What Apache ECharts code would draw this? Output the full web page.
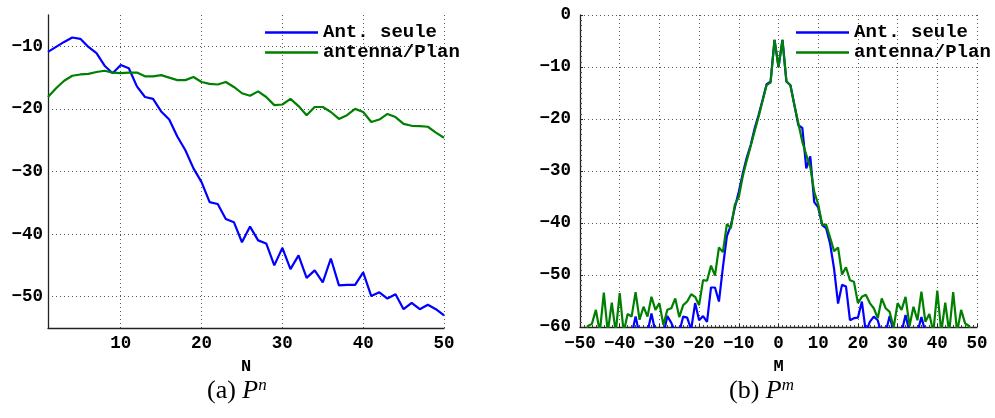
<!DOCTYPE html>
<html>
<head>
<meta charset="utf-8">
<script src="https://cdn.jsdelivr.net/npm/echarts@6/dist/echarts.min.js"></script>
<style>
  html, body { margin: 0; padding: 0; background: #fff; }
  #chart { width: 995px; height: 418px; }
</style>
</head>
<body>
<div id="chart"></div>
<script>
// (a) P^n : N = 1..50
const nAxis = Array.from({ length: 50 }, (_, i) => i + 1);
const antSeuleN = [
  -10.9, -10.1, -9.3, -8.6, -8.8, -10.1, -11.1, -13.1, -14.3, -13.0,
  -13.5, -16.4, -18.1, -18.4, -20.4, -21.7, -24.4, -26.6, -29.5, -31.7,
  -34.9, -35.2, -37.6, -38.1, -41.3, -38.8, -41.0, -41.5, -45.0, -42.2,
  -45.6, -43.4, -47.0, -45.8, -47.7, -43.9, -48.2, -48.1, -48.1, -46.1,
  -49.9, -49.3, -50.3, -49.6, -52.0, -51.0, -52.0, -51.3, -52.0, -53.0
];
const antennaPlanN = [
  -18.1, -16.7, -15.5, -14.7, -14.5, -14.4, -14.1, -13.9, -14.2, -14.3,
  -14.2, -14.2, -14.8, -14.8, -14.6, -15.0, -15.4, -15.4, -14.9, -15.7,
  -16.0, -16.1, -15.7, -16.5, -17.5, -17.9, -17.2, -18.1, -19.4, -19.3,
  -18.4, -19.55, -21.0, -19.7, -19.7, -20.5, -21.6, -21.0, -20.0, -20.5,
  -22.1, -21.7, -20.8, -21.3, -22.4, -22.7, -22.75, -22.85, -23.8, -24.6
];

// (b) P^m : M = -50..50
const mAxis = Array.from({ length: 101 }, (_, i) => i - 50);
const antSeuleM = [
  -63, -63, -63, -63, -63, -63, -63, -63, -63, -63,
  -63, -63, -63, -61.5, -58, -61.5, -62, -61, -57.4, -61,
  -62, -61.5, -57.9, -59.2, -61, -61, -58, -58.2, -60.5, -55.4,
  -58.7, -57.9, -59, -52.4, -52.4, -55.1, -48.5, -42.5, -40.5, -37,
  -34, -30.5, -27.4, -25, -21.8, -19.2, -16.3, -13.3, -12.8, -4.8,
  -10,
  -4.8, -12.8, -13.5, -17.3, -21.2, -21.7, -29.5, -27.2, -36, -37,
  -40.4, -41, -44, -48.8, -55.5, -51.9, -52.2, -58.7, -58.3, -58.2,
  -55.1, -61, -59, -58, -58.7, -61.5, -61, -57.9, -61, -62,
  -61, -57.7, -61, -62, -61, -58.1, -61, -63, -63, -63,
  -63, -63, -63, -63, -63, -63, -63, -63, -63, -63
];
const antennaPlanM = [
  -63, -62, -59.8, -59.4, -56.7, -61, -53.4, -61, -55.3, -61,
  -53.5, -61, -57.5, -58, -53.3, -58.6, -56.1, -58, -54.2, -56.7,
  -55.4, -59.6, -56.7, -56.4, -54.5, -58.1, -55.8, -55.1, -53.7, -54.2,
  -55.8, -51, -51.1, -48.2, -50.1, -44.7, -45.6, -40.2, -41, -36.5,
  -35, -31, -28, -25.2, -22.3, -19.5, -16.5, -13.5, -13, -4.8,
  -10,
  -4.8, -12.8, -13.5, -17.3, -20.8, -24.4, -26.9, -29.2, -34, -36.4,
  -40.3, -40.3, -42.8, -45.4, -44.7, -49.9, -48.5, -51, -51.3, -55.4,
  -54.2, -53.8, -55.4, -56.4, -58.3, -54.5, -56.4, -57.1, -60.1, -55.4,
  -56.7, -54.2, -59.8, -56.1, -58.7, -53.2, -59, -57.5, -61, -53,
  -61, -55.3, -61, -53.3, -61, -56.7, -59.3, -59.8, -62, -63
];

const seriesNames = ['Ant. seule', 'antenna/Plan'];
const BLUE = '#0000ff';
const GREEN = '#008000';
const MONO = '"Liberation Mono", "DejaVu Sans Mono", monospace';
const SERIF = '"Liberation Serif", "DejaVu Serif", serif';
const GRIDC = '#555';

const minus = v => (v < 0 ? '\u2212' + Math.abs(v) : String(v));
const pairs = (xs, ys) => xs.map((x, i) => [x, ys[i]]);

const labelStyle = { fontFamily: MONO, fontWeight: 'bold', fontSize: 17.5, color: '#000' };
const dotted = c => ({ show: true, lineStyle: { color: c, width: 1, type: [1, 3] } });
const axisLine = { show: true, onZero: false, lineStyle: { color: '#222', width: 1.3 } };

const legendOpt = left => ({
  orient: 'vertical', left: left, top: 23, padding: 0, icon: 'rect',
  itemWidth: 53, itemHeight: 2.5, itemGap: 1,
  data: seriesNames,
  textStyle: { fontFamily: MONO, fontWeight: 'bold', fontSize: 19, color: '#000', lineHeight: 19 }
});

const captionRich = {
  r: { fontFamily: SERIF, fontSize: 26, color: '#000' },
  i: { fontFamily: SERIF, fontStyle: 'italic', fontSize: 26, color: '#000' },
  s: { fontFamily: SERIF, fontStyle: 'italic', fontSize: 17, color: '#000', padding: [0, 0, 11, 0] }
};

const chart = echarts.init(document.getElementById('chart'), null, { renderer: 'canvas' });

chart.setOption({
  animation: false,
  backgroundColor: '#fff',
  grid: [
    { left: 48, top: 15, width: 396, height: 313 },
    { left: 580, top: 15, width: 397, height: 312 }
  ],
  xAxis: [
    {
      gridIndex: 0, type: 'value', min: 1, max: 50, interval: 1,
      axisLine: axisLine, axisTick: { show: false },
      axisLabel: Object.assign({ margin: 7, formatter: v => (v % 10 === 0 ? String(v) : '') }, labelStyle),
      // only every 10th line drawn (ticks counted from 1)
      splitLine: { show: true, lineStyle: { color: ['transparent', 'transparent', 'transparent', 'transparent', 'transparent', 'transparent', 'transparent', 'transparent', 'transparent', GRIDC], width: 1, type: [1, 3] } },
      name: 'N', nameLocation: 'middle', nameGap: 30,
      nameTextStyle: { fontFamily: MONO, fontWeight: 'bold', fontSize: 17, color: '#000' }
    },
    {
      gridIndex: 1, type: 'value', min: -50, max: 50, interval: 10,
      axisLine: axisLine,
      axisTick: { show: true, inside: true, length: 3, lineStyle: { color: '#222' } },
      minorTick: { show: true, splitNumber: 10, length: 2, lineStyle: { color: '#444' } },
      axisLabel: Object.assign({ margin: 8, formatter: minus }, labelStyle),
      splitLine: dotted(GRIDC),
      name: 'M', nameLocation: 'middle', nameGap: 31,
      nameTextStyle: { fontFamily: MONO, fontWeight: 'bold', fontSize: 17, color: '#000' }
    }
  ],
  yAxis: [
    {
      gridIndex: 0, type: 'value', min: -55, max: -5, interval: 5,
      axisLine: axisLine, axisTick: { show: false },
      axisLabel: Object.assign({ margin: 5, formatter: v => (v % 10 === 0 ? minus(v) : '') }, labelStyle),
      splitLine: { show: true, lineStyle: { color: ['transparent', GRIDC], width: 1, type: [1, 3] } }
    },
    {
      gridIndex: 1, type: 'value', min: -60, max: 0, interval: 10,
      axisLine: axisLine,
      axisTick: { show: true, inside: true, length: 3, lineStyle: { color: '#222' } },
      minorTick: { show: true, splitNumber: 10, length: 2, lineStyle: { color: '#444' } },
      axisLabel: Object.assign({ margin: 9, formatter: minus }, labelStyle),
      splitLine: dotted(GRIDC)
    }
  ],
  legend: [legendOpt(265), legendOpt(796)],
  title: [
    { text: '{r|(a) }{i|P}{s|n}', left: 202, top: 372, textStyle: { fontWeight: 'normal', rich: captionRich } },
    { text: '{r|(b) }{i|P}{s|m}', left: 724, top: 372, textStyle: { fontWeight: 'normal', rich: captionRich } }
  ],
  series: [
    {
      name: seriesNames[0], type: 'line', xAxisIndex: 0, yAxisIndex: 0,
      data: pairs(nAxis, antSeuleN), symbol: 'none', clip: true,
      lineStyle: { color: BLUE, width: 2.2 }, itemStyle: { color: BLUE }
    },
    {
      name: seriesNames[1], type: 'line', xAxisIndex: 0, yAxisIndex: 0,
      data: pairs(nAxis, antennaPlanN), symbol: 'none', clip: true,
      lineStyle: { color: GREEN, width: 2.2 }, itemStyle: { color: GREEN }
    },
    {
      name: seriesNames[0], type: 'line', xAxisIndex: 1, yAxisIndex: 1,
      data: pairs(mAxis, antSeuleM), symbol: 'none', clip: true,
      lineStyle: { color: BLUE, width: 2.2 }, itemStyle: { color: BLUE }
    },
    {
      name: seriesNames[1], type: 'line', xAxisIndex: 1, yAxisIndex: 1,
      data: pairs(mAxis, antennaPlanM), symbol: 'none', clip: true,
      lineStyle: { color: GREEN, width: 2.2 }, itemStyle: { color: GREEN }
    }
  ]
});
</script>
</body>
</html>
